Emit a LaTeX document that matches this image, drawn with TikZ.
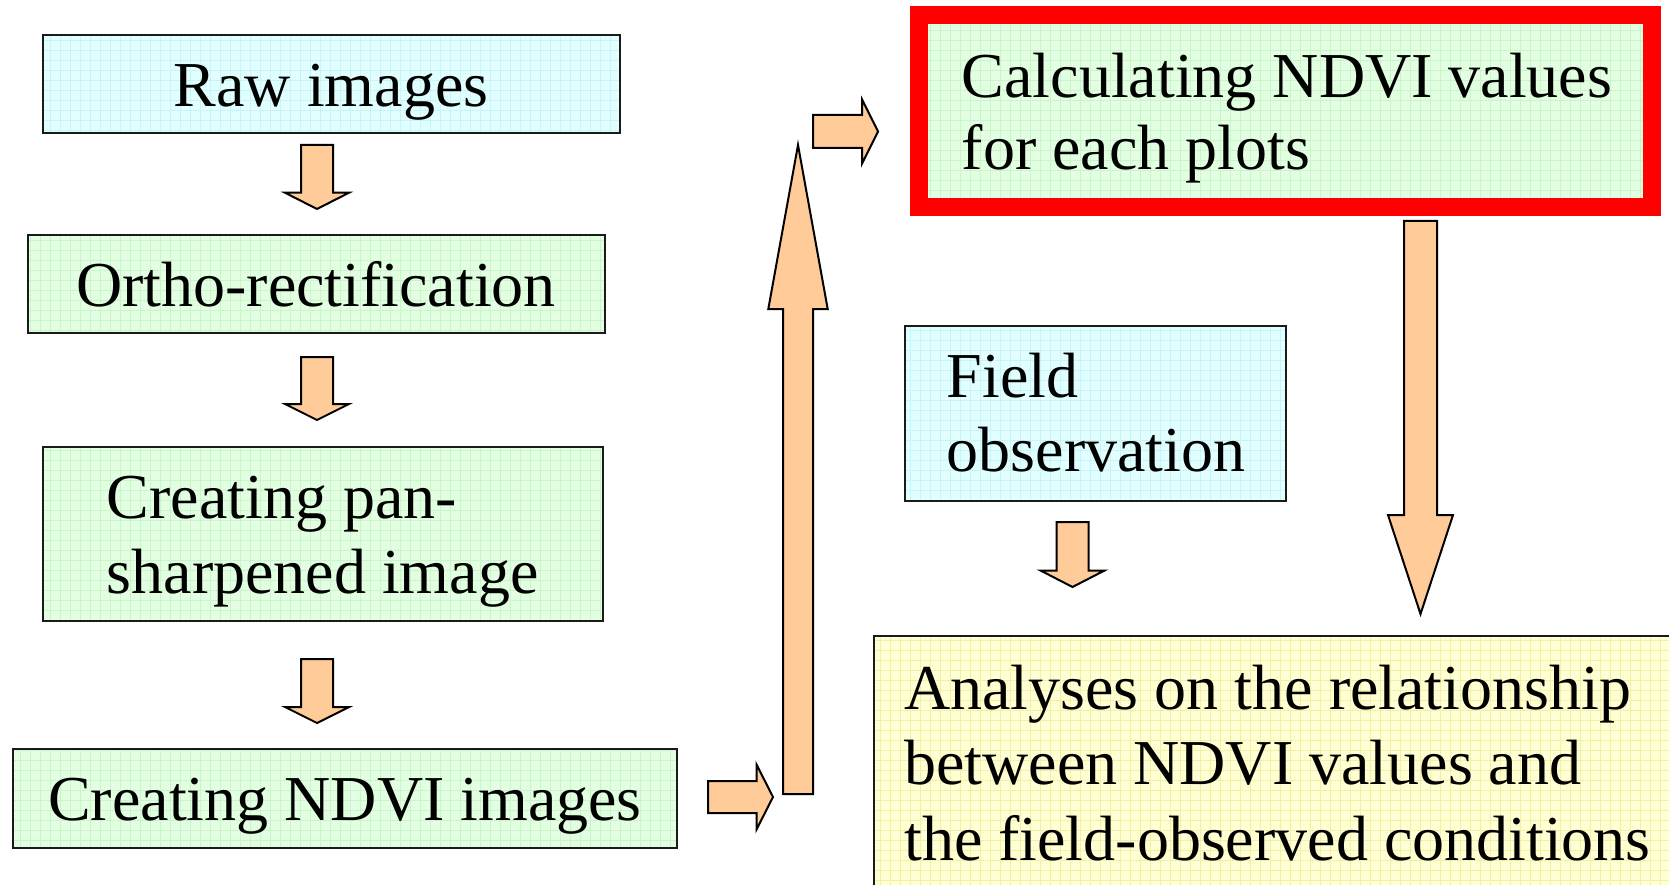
\documentclass[tikz,border=0pt]{standalone}
\usepackage{fontspec}
\setmainfont{Liberation Serif}
\usetikzlibrary{fit}

\definecolor{cyanfill}{HTML}{E2FFFF}
\definecolor{cyangrid}{HTML}{C8F4F8}
\definecolor{greenfill}{HTML}{E2FFE2}
\definecolor{greengrid}{HTML}{CCF4CC}
\definecolor{yellowfill}{HTML}{FFFFD4}
\definecolor{yellowgrid}{HTML}{F4EEA8}
\definecolor{arrowfill}{HTML}{FFCC99}
\definecolor{frame}{HTML}{1A1A1A}
\definecolor{alertred}{HTML}{FF0000}

\tikzset{
  boxframe/.style={draw=frame, line width=2, inner sep=0pt},
  txt/.style={font=\fontsize{64}{75.6}\selectfont, inner sep=0pt, text=black},
  blockarrow/.style={fill=arrowfill, draw=black, line width=2, line join=miter},
}

% filled box with a faint squared pattern and a thin outline
\newcommand\gridbox[6][boxframe]{%
  \fill[#5] #3 rectangle #4;
  \begin{scope}
    \clip #3 rectangle #4;
    \draw[#6, line width=0.8, xstep=10pt, ystep=10pt] #3 grid #4;
  \end{scope}
  \node[#1, fit={#3 #4}] (#2) {};
}

% vertical block arrow: centre x, start y, head base y, tip y, shaft half width, head half width
\newcommand\vblk[6]{%
  \draw[blockarrow] (#1-#5,#2) -- (#1+#5,#2) -- (#1+#5,#3) -- (#1+#6,#3)
    -- (#1,#4) -- (#1-#6,#3) -- (#1-#5,#3) -- cycle;}
% horizontal block arrow: centre y, start x, head base x, tip x, shaft half width, head half width
\newcommand\hblk[6]{%
  \draw[blockarrow] (#2,#1-#5) -- (#3,#1-#5) -- (#3,#1-#6) -- (#4,#1)
    -- (#3,#1+#6) -- (#3,#1+#5) -- (#2,#1+#5) -- cycle;}

\begin{document}
\begin{tikzpicture}[x=1pt,y=-1pt]
\clip (0,0) rectangle (1669,885);
\fill[white] (0,0) rectangle (1669,885);

% left column of processing steps
\gridbox{raw}{(42.5,35)}{(620,133)}{cyanfill}{cyangrid}
\gridbox{ortho}{(27.5,235)}{(605,333)}{greenfill}{greengrid}
\gridbox{pan}{(42.5,447)}{(602.5,620.5)}{greenfill}{greengrid}
\gridbox{ndviimg}{(13,749)}{(677,848)}{greenfill}{greengrid}

% right column
\gridbox[inner sep=0pt]{calc}{(910,6)}{(1661,216)}{greenfill}{greengrid}
\draw[alertred, line width=18] (919,15) rectangle (1652,207);
\gridbox{field}{(904.5,326)}{(1285.5,501)}{cyanfill}{cyangrid}
\gridbox{analyses}{(874,636)}{(1690,905)}{yellowfill}{yellowgrid}

% labels
\node[txt, anchor=base] (traw) at (331,106.5) {Raw images};
\node[txt, anchor=base] (tortho) at (316,306.5) {Ortho-rectification};
\node[txt, anchor=base west] (tpan1) at (106.5,518.5) {Creating pan-};
\node[txt, anchor=base west] (tpan2) at (106.5,593) {sharpened image};
\node[txt, anchor=base] (tndvi) at (345,820) {Creating NDVI images};
\node[txt, anchor=base west] (tcalc1) at (961.5,97.5) {Calculating NDVI values};
\node[txt, anchor=base west] (tcalc2) at (961.5,170) {for each plots};
\node[txt, anchor=base west] (tfield1) at (946.5,397) {Field};
\node[txt, anchor=base west] (tfield2) at (946.5,471.5) {observation};
\node[txt, anchor=base west] (tan1) at (904,709) {Analyses on the relationship};
\node[txt, anchor=base west] (tan2) at (904,784.5) {between NDVI values and};
\node[txt, anchor=base west] (tan3) at (904,860) {the field-observed conditions};

% block arrows between the steps
\vblk{317}{145}{192.7}{209}{16}{32}
\vblk{317}{357}{404}{420}{16}{32}
\vblk{317}{659}{707}{723}{16}{32}
\hblk{797}{708}{756.5}{773}{16}{32.5}
\vblk{798}{794}{309}{145}{15}{29.7}
\hblk{131.5}{813}{862}{878}{16.5}{32}
\vblk{1420.5}{221}{515}{614}{16.5}{32.5}
\vblk{1072.5}{522}{570.5}{587}{16}{32}
\end{tikzpicture}
\end{document}
